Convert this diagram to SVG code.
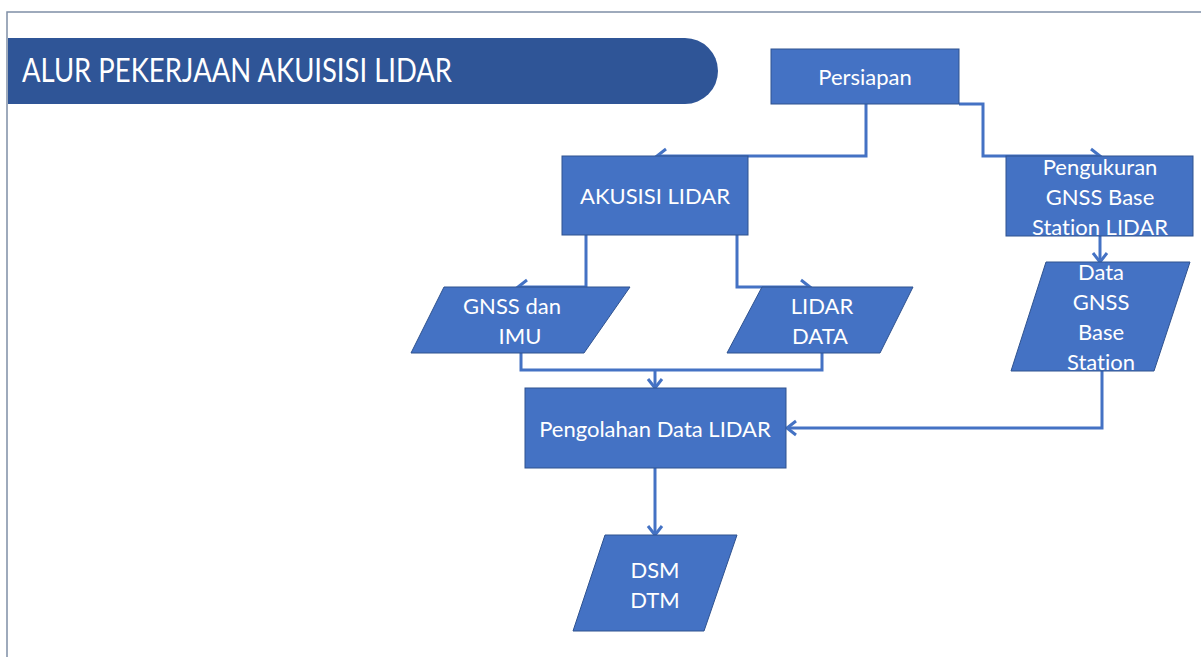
<svg xmlns="http://www.w3.org/2000/svg" width="1201" height="657" viewBox="0 0 1201 657">
<style>
.box{fill:#4472C4;stroke:#2F528F;stroke-width:1}
.t{font-family:Lato,"Liberation Sans",sans-serif;font-size:22px;fill:#FFFFFF;text-anchor:middle;font-variant-ligatures:none}
.c{fill:none;stroke:#4472C4;stroke-width:3}
</style>
<defs>
<marker id="ah" markerUnits="userSpaceOnUse" markerWidth="20" markerHeight="20" refX="10" refY="10" orient="auto" overflow="visible">
<path d="M1,3 L10,10 L1,17" fill="none" stroke="#4472C4" stroke-width="3"/>
</marker>
</defs>
<rect x="0" y="0" width="1201" height="657" fill="#FFFFFF"/>
<rect x="7" y="12" width="1300" height="800" fill="none" stroke="#7F8FA6" stroke-width="1.5"/>
<g id="title">
<path d="M8,38 H685 A33,33 0 0 1 685,104 H8 Z" fill="#2F5597"/>
<text x="22" y="82" font-family="Lato,'Liberation Sans',sans-serif" font-size="33" fill="#FFFFFF" textLength="430" lengthAdjust="spacingAndGlyphs">ALUR PEKERJAAN AKUISISI LIDAR</text>
</g>
<g id="connectors">
<path class="c" d="M866,104 V156 H657" marker-end="url(#ah)"/>
<path class="c" d="M959,104 H983 V156 H1100" marker-end="url(#ah)"/>
<path class="c" d="M586,235 V287 H518" marker-end="url(#ah)"/>
<path class="c" d="M737,235 V287 H810" marker-end="url(#ah)"/>
<path class="c" d="M521,353 V370 H822 V353"/>
<path class="c" d="M655,370 V388" marker-end="url(#ah)"/>
<path class="c" d="M1100,236 V262" marker-end="url(#ah)"/>
<path class="c" d="M1102,371 V428 H787" marker-end="url(#ah)"/>
<path class="c" d="M655,468 V535" marker-end="url(#ah)"/>
</g>
<g id="persiapan">
<rect class="box" x="771" y="49" width="188" height="55"/>
<text class="t" x="865" y="85">Persiapan</text>
</g>
<g id="akusisi">
<rect class="box" x="562" y="156" width="186" height="79"/>
<text class="t" x="655" y="204">AKUSISI LIDAR</text>
</g>
<g id="pengukuran">
<rect class="box" x="1006" y="156" width="187" height="80"/>
<text class="t" x="1100" y="175">Pengukuran</text>
<text class="t" x="1100" y="205">GNSS Base</text>
<text class="t" x="1100" y="235">Station LIDAR</text>
</g>
<g id="gnss-imu">
<polygon class="box" points="444,287 630,287 584,353 411,353"/>
<text class="t" x="512" y="314">GNSS dan</text>
<text class="t" x="520" y="344">IMU</text>
</g>
<g id="lidar-data">
<polygon class="box" points="762,287 913,287 880,353 727,353"/>
<text class="t" x="822" y="314">LIDAR</text>
<text class="t" x="820" y="344">DATA</text>
</g>
<g id="data-gnss">
<polygon class="box" points="1046,262 1190,262 1154,371 1011,371"/>
<text class="t" x="1101" y="280">Data</text>
<text class="t" x="1101" y="310">GNSS</text>
<text class="t" x="1101" y="340">Base</text>
<text class="t" x="1101" y="370">Station</text>
</g>
<g id="pengolahan">
<rect class="box" x="525" y="388" width="261" height="80"/>
<text class="t" x="655" y="437">Pengolahan Data LIDAR</text>
</g>
<g id="dsm-dtm">
<polygon class="box" points="605,535 737,535 704,631 573,631"/>
<text class="t" x="655" y="578">DSM</text>
<text class="t" x="655" y="608">DTM</text>
</g>
</svg>
